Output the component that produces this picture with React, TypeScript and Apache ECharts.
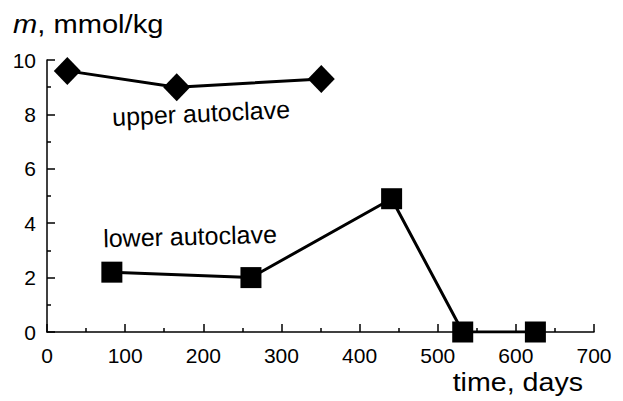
import React, { useEffect, useRef } from "react";
import * as echarts from "echarts";

const upperDays = [26, 166, 351];
const upperValues = [9.6, 9.0, 9.3];
const lowerDays = [83, 261, 441, 532, 625];
const lowerValues = [2.2, 2.0, 4.9, 0, 0];
const xTicks = { min: 0, max: 700, interval: 100 };
const yTicks = { min: 0, max: 10, interval: 2 };

const FONT = "Liberation Sans, Arial, Helvetica, sans-serif";

export default function App() {
  const ref = useRef<HTMLDivElement>(null);
  useEffect(() => {
    if (!ref.current) return;
    const chart = echarts.init(ref.current, undefined, { renderer: "svg" });
    const axisCommon = {
      axisLine: { show: true, lineStyle: { color: "#000", width: 1.5 } },
      axisTick: { show: true, inside: true, length: 8, lineStyle: { color: "#000", width: 1.5 } },
      minorTick: { show: true, splitNumber: 2, length: 4, lineStyle: { color: "#000", width: 1.5 } },
      splitLine: { show: false },
      minorSplitLine: { show: false },
      axisLabel: { color: "#000", fontSize: 21, fontFamily: FONT, margin: 13 },
    };
    chart.setOption({
      animation: false,
      backgroundColor: "#fff",
      grid: { left: 47, right: 29, top: 60, bottom: 69, containLabel: false },
      xAxis: { type: "value", ...xTicks, ...axisCommon },
      yAxis: { type: "value", ...yTicks, ...axisCommon, axisLabel: { ...axisCommon.axisLabel, margin: 11 } },
      series: [
        {
          type: "line",
          data: upperDays.map((d, i) => [d, upperValues[i]]),
          symbol: "diamond",
          symbolSize: [27, 28],
          lineStyle: { color: "#000", width: 3 },
          itemStyle: { color: "#000" },
        },
        {
          type: "line",
          data: lowerDays.map((d, i) => [d, lowerValues[i]]),
          symbol: "rect",
          symbolSize: 21,
          lineStyle: { color: "#000", width: 3 },
          itemStyle: { color: "#000" },
        },
      ],
      graphic: [
        {
          type: "text",
          x: 13,
          y: 24,
          scaleX: 1.12,
          style: {
            text: "{i|m}, mmol/kg",
            font: `26px ${FONT}`,
            fill: "#000",
            align: "left",
            verticalAlign: "middle",
            rich: { i: { fontStyle: "italic", fontSize: 26, fontFamily: FONT } },
          },
        },
        {
          type: "text",
          x: 583,
          y: 382,
          scaleX: 1.1,
          style: { text: "time, days", font: `26px ${FONT}`, fill: "#000", align: "right", verticalAlign: "middle" },
        },
        {
          type: "text",
          x: 201,
          y: 113,
          rotation: 0.045,
          style: { text: "upper autoclave", font: `25px ${FONT}`, fill: "#000", align: "center", verticalAlign: "middle" },
        },
        {
          type: "text",
          x: 190,
          y: 236,
          rotation: 0.025,
          style: { text: "lower autoclave", font: `25px ${FONT}`, fill: "#000", align: "center", verticalAlign: "middle" },
        },
      ],
    });
    return () => chart.dispose();
  }, []);
  return <div ref={ref} style={{ width: 623, height: 401, position: "absolute", left: 0, top: 0 }} />;
}
